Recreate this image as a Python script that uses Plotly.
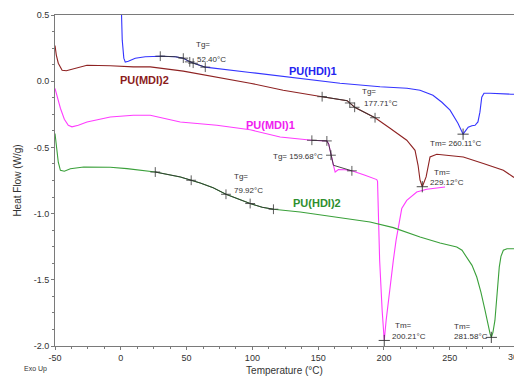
import numpy as np
import plotly.graph_objects as go

# ---- DSC heat-flow curves: temperature (°C) and heat flow (W/g) ----
hdi1_T = [0.4, 1.1, 2.3, 3.4, 5.7, 11, 18.6, 30, 41.4, 47.5, 52.4, 55, 64.2, 98.3, 136.3,
          166.6, 197, 217.5, 227.4, 237.2, 244, 250.2, 256.2, 259.3, 260.11, 264, 266.8,
          269.2, 271.4, 272.9, 274.3, 276, 280.6, 296.5, 298.8]
hdi1_hf = [0.56, 0.31, 0.174, 0.144, 0.151, 0.174, 0.185, 0.189, 0.185, 0.174, 0.146, 0.136,
           0.106, 0.066, 0.023, -0.015, -0.042, -0.053, -0.068, -0.106, -0.159, -0.219,
           -0.317, -0.378, -0.40, -0.348, -0.336, -0.333, -0.308, -0.234, -0.121, -0.091,
           -0.091, -0.098, -0.098]

mdi2_T = [-50, -49, -47.5, -44.6, -41.4, -34.5, -25.7, -8, 9.5, 22.4, 47.5, 98.3, 123.4,
          153, 172, 177.71, 193.2, 204.6, 217.3, 223.6, 225.9, 227.4, 229.12, 232, 235,
          240.1, 260.3, 275.5, 290.7, 298.8]
mdi2_hf = [0.27, 0.197, 0.136, 0.083, 0.079, 0.098, 0.121, 0.117, 0.108, 0.108, 0.076,
           -0.015, -0.068, -0.117, -0.147, -0.197, -0.276, -0.355, -0.446, -0.522, -0.635,
           -0.748, -0.797, -0.723, -0.572, -0.552, -0.572, -0.622, -0.673, -0.727]

mdi1_T = [-50, -48.2, -45.9, -42.9, -39.9, -37.1, -32.3, -25.7, -8, 9.5, 22.4, 45.2, 73,
          98.3, 121.1, 145.2, 156.6, 158, 159.68, 161.6, 162.9, 165.4, 170.5, 175.6, 185.6,
          194.5, 195.1, 195.5, 196.7, 198.6, 200.21, 201.6, 204.6, 207.1, 209.2, 210.9,
          213.5, 217.3, 224.9, 232.5, 246.4]
mdi1_hf = [-0.055, -0.121, -0.204, -0.287, -0.333, -0.345, -0.333, -0.308, -0.27, -0.257,
           -0.257, -0.308, -0.333, -0.367, -0.421, -0.446, -0.451, -0.476, -0.559, -0.635,
           -0.686, -0.667, -0.669, -0.677, -0.71, -0.743, -0.756, -0.9, -1.353, -1.731,
           -1.958, -1.81, -1.542, -1.353, -1.2, -1.1, -0.962, -0.9, -0.837, -0.816, -0.799]

hdi2_T = [-50, -49, -47.5, -45.9, -42.9, -38.3, -28.2, -8, 4.7, 26.2, 45.2, 60.4, 70.2,
          79.92, 89.2, 98.3, 107.4, 116, 136.3, 166.6, 189.4, 207.1, 227.4, 242.6, 255.3,
          259.3, 262.9, 266.9, 270.5, 273.7, 276.8, 279.1, 280.6, 281.58, 282.8, 284.3,
          285.8, 287.6, 288.9, 290.7, 293.5, 298.8]
hdi2_hf = [-0.395, -0.484, -0.612, -0.673, -0.68, -0.661, -0.648, -0.65, -0.66, -0.686,
           -0.723, -0.769, -0.805, -0.854, -0.892, -0.924, -0.952, -0.967, -0.988, -1.032,
           -1.063, -1.106, -1.177, -1.222, -1.252, -1.277, -1.328, -1.391, -1.479, -1.595,
           -1.731, -1.844, -1.907, -1.935, -1.897, -1.807, -1.618, -1.404, -1.323, -1.277,
           -1.266, -1.265]

# ---- thermal analysis results ----
tg_values = {"hdi1": 52.40, "mdi2": 177.71, "mdi1": 159.68, "hdi2": 79.92}
tm_values = {"hdi1": 260.11, "mdi2": 229.12, "mdi1": 200.21, "hdi2": 281.58}

# glass-transition construction lines (vertex temperatures) and limit ticks
hdi1_tg_path = [30, 41.4, 47.5, 52.4, 55, 64.2]
mdi2_tg_path = [153, 172, 177.71, 193.2]
mdi1_tg_path = [145.2, 156.6, 158, 159.68, 161.6, 175.6]
hdi2_tg_path = [26.2, 45.2, 60.4, 70.2, 79.92, 89.2, 98.3, 107.4, 116]

hdi1_tg_ticks = [30, 47.5, 52.4, 55, 64.2]
mdi2_tg_ticks = [153, 174, 177.71, 193.2]
mdi1_tg_ticks = [145.2, 156.6, 159.68, 175.6]
hdi2_tg_ticks = [26.2, 53.5, 79.92, 98.3, 116]

x_ticks = [-50, 0, 50, 100, 150, 200, 250]
y_ticks = [0.5, 0.0, -0.5, -1.0, -1.5, -2.0]

X_MIN, X_MAX = -50, 298.8
FONT = "Liberation Sans, Arial, sans-serif"
MARK = "#333333"

series = [
    ("hdi1", "PU(HDI)1", hdi1_T, hdi1_hf, "#3434ff", "#2424f0", hdi1_tg_path, hdi1_tg_ticks),
    ("mdi2", "PU(MDI)2", mdi2_T, mdi2_hf, "#8e2222", "#8b1c1c", mdi2_tg_path, mdi2_tg_ticks),
    ("mdi1", "PU(MDI)1", mdi1_T, mdi1_hf, "#ff3cff", "#f020f0", mdi1_tg_path, mdi1_tg_ticks),
    ("hdi2", "PU(HDI)2", hdi2_T, hdi2_hf, "#3aa03a", "#2e8f2e", hdi2_tg_path, hdi2_tg_ticks),
]

fig = go.Figure()

for key, name, T, hf, col, _, _, _ in series:
    fig.add_trace(go.Scatter(x=T, y=hf, mode="lines", name=name,
                             line=dict(color=col, width=1.1), hoverinfo="skip"))

for key, name, T, hf, col, _, path, ticks in series:
    fig.add_trace(go.Scatter(x=path, y=np.interp(path, T, hf), mode="lines",
                             line=dict(color=MARK, width=0.9), hoverinfo="skip"))
    fig.add_trace(go.Scatter(x=ticks, y=np.interp(ticks, T, hf), mode="markers",
                             marker=dict(symbol="cross-thin", size=7,
                                         line=dict(color=MARK, width=0.8)),
                             hoverinfo="skip"))
    tm = tm_values[key]
    fig.add_trace(go.Scatter(x=[tm], y=[np.interp(tm, T, hf)], mode="markers",
                             marker=dict(symbol="cross-thin", size=8,
                                         line=dict(color=MARK, width=0.9)),
                             hoverinfo="skip"))

ann = []


def note(x, y, text, size=8, color="#333333", bold=False, anchor="left"):
    ann.append(dict(x=x, y=y, xref="x", yref="y", text=f"<b>{text}</b>" if bold else text,
                    showarrow=False, xanchor=anchor, yanchor="middle",
                    font=dict(family=FONT, size=size, color=color)))


# series names
note(145.8, 0.076, "PU(HDI)1", size=11, color=series[0][5], bold=True, anchor="center")
note(17.8, 0.008, "PU(MDI)2", size=11, color=series[1][5], bold=True, anchor="center")
note(113.5, -0.333, "PU(MDI)1", size=11, color=series[2][5], bold=True, anchor="center")
note(149.0, -0.92, "PU(HDI)2", size=11, color=series[3][5], bold=True, anchor="center")

# glass transitions
note(55.3, 0.277, "Tg=")
note(56.6, 0.166, f"{tg_values['hdi1']:.2f}°C")
note(181.9, -0.081, "Tg=")
note(183.1, -0.169, f"{tg_values['mdi2']:.2f}°C")
note(114.0, -0.572, f"Tg= {tg_values['mdi1']:.2f}°C")
note(84.4, -0.718, "Tg=")
note(84.4, -0.824, f"{tg_values['hdi2']:.2f}°C")

# melting peaks
note(233.7, -0.471, f"Tm= {tm_values['hdi1']:.2f}°C")
note(236.3, -0.686, "Tm=")
note(233.7, -0.766, f"{tm_values['mdi2']:.2f}°C")
note(207.1, -1.844, "Tm=")
note(204.6, -1.927, f"{tm_values['mdi1']:.2f}°C")
note(251.5, -1.85, "Tm=")
note(251.5, -1.927, f"{tm_values['hdi2']:.2f}°C")

# last x tick label sits just past the right edge of the plot area
ann.append(dict(x=(300 - X_MIN) / (X_MAX - X_MIN), y=0, xref="paper", yref="paper",
                text="300", showarrow=False, xanchor="center", yanchor="top", yshift=-4,
                font=dict(family=FONT, size=9, color="#333333")))

ann.append(dict(x=-0.072, y=-0.07, xref="paper", yref="paper", text="Exo Up",
                showarrow=False, xanchor="left", yanchor="middle",
                font=dict(family=FONT, size=7, color="#333333")))

axis_common = dict(showline=True, linecolor="#7a7a7a", linewidth=1, ticks="outside",
                   tickcolor="#7a7a7a", ticklen=3, tickwidth=1, showgrid=False,
                   zeroline=False, tickfont=dict(family=FONT, size=9, color="#333333"))

fig.update_layout(
    width=514, height=376,
    margin=dict(l=55, r=0, t=15, b=30),
    paper_bgcolor="white", plot_bgcolor="white",
    showlegend=False,
    annotations=ann,
    xaxis=dict(range=[X_MIN, X_MAX], tickvals=x_ticks, ticktext=[f"{v:g}" for v in x_ticks],
               mirror=True,
               minor=dict(dtick=12.5, ticklen=2, ticks="outside", tickcolor="#7a7a7a"),
               title=dict(text="Temperature (°C)", standoff=5,
                          font=dict(family=FONT, size=10, color="#333333")),
               **axis_common),
    yaxis=dict(range=[-2.0, 0.5], tickvals=y_ticks, ticktext=[f"{v:.1f}" for v in y_ticks],
               minor=dict(dtick=0.125, ticklen=2, ticks="outside", tickcolor="#7a7a7a"),
               title=dict(text="Heat Flow (W/g)", standoff=10,
                          font=dict(family=FONT, size=10, color="#333333")),
               **axis_common),
)

fig.write_html("out.html")
